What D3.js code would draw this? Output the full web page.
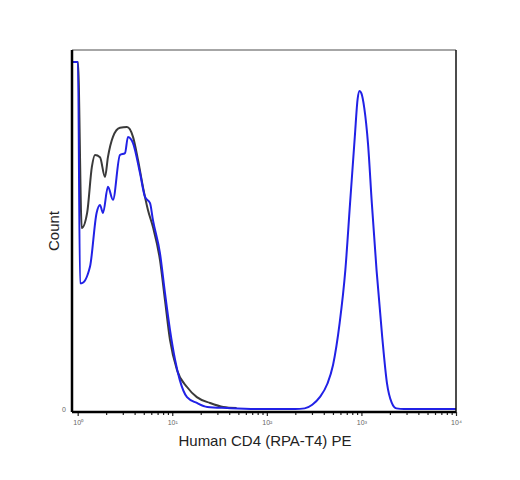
<!DOCTYPE html>
<html>
<head>
<meta charset="utf-8">
<script src="https://cdn.jsdelivr.net/npm/d3@7"></script>
<style>
  body { margin: 0; background: #fff; }
  text { font-family: "Liberation Sans", Arial, sans-serif; }
</style>
</head>
<body>
<div id="chart"></div>
<script>
// DATA (x in decades of PE intensity, y as count in % of max)
var decades = [0, 1, 2, 3, 4];
var decadeLabels = ["10\u2070", "10\u00b9", "10\u00b2", "10\u00b3", "10\u2074"];

var isotypeX = [-0.049, 0.003, 0.043, 0.10, 0.15, 0.183, 0.236, 0.289, 0.32, 0.373, 0.447, 0.521, 0.585, 0.638, 0.69, 0.743, 0.796, 0.87, 0.923, 0.976, 1.05, 1.156, 1.26, 1.40, 1.54, 1.68];
var isotypeY = [96.7, 96.7, 50.8, 55.0, 67.7, 71.0, 70.4, 64.9, 70.4, 76.0, 78.5, 78.7, 76.0, 69.6, 62.2, 55.8, 51.1, 42.0, 30.9, 19.9, 11.6, 6.9, 4.1, 2.5, 1.4, 1.1];

var cd4X = [-0.049, 0.003, 0.025, 0.043, 0.13, 0.20, 0.236, 0.268, 0.32, 0.373, 0.447, 0.50, 0.532, 0.585, 0.659, 0.712, 0.765, 0.796, 0.87, 0.923, 0.976, 1.03, 1.08, 1.156, 1.26, 1.37, 1.58, 1.93, 2.30, 2.40, 2.48, 2.56, 2.64, 2.70, 2.77, 2.83, 2.88, 2.93, 2.96, 2.98, 3.00, 3.03, 3.07, 3.11, 3.16, 3.22, 3.27, 3.32, 3.37, 3.45, 4.0];
var cd4Y = [96.7, 96.7, 35.6, 35.6, 40.1, 55.0, 57.2, 55.0, 62.2, 58.6, 71.0, 71.5, 76.0, 74.3, 66.0, 59.4, 57.7, 53.0, 43.9, 32.9, 22.7, 14.4, 8.8, 4.1, 2.5, 1.4, 1.1, 0.8, 0.8, 1.0, 2.0, 4.1, 7.8, 13.0, 24.6, 39.2, 57.7, 76.0, 86.5, 88.7, 88.0, 84.0, 74.0, 57.7, 39.2, 20.7, 8.0, 2.6, 1.0, 0.8, 0.8];

// LAYOUT
var svgWidth = 520, svgHeight = 480;
var margin = { top: 50, right: 64, bottom: 68, left: 72 };
var width = svgWidth - margin.left - margin.right;
var height = svgHeight - margin.top - margin.bottom;

var svg = d3.select("#chart")
  .append("svg")
    .attr("width", svgWidth)
    .attr("height", svgHeight)
  .append("g")
    .attr("transform", "translate(" + margin.left + "," + margin.top + ")");

var x = d3.scaleLinear().domain([-0.06, 4]).range([0, width]);
var y = d3.scaleLinear().domain([0, 100]).range([height, 0]);

// MINOR LOG TICKS
var minor = [];
decades.slice(0, 4).forEach(function(d) {
  for (var k = 2; k <= 9; k++) minor.push(d + Math.log10(k));
});

svg.append("g")
  .attr("class", "minor")
  .attr("transform", "translate(0," + height + ")")
  .call(d3.axisBottom(x).tickValues(minor).tickSize(3).tickFormat(""))
  .call(function(g) { g.select(".domain").remove(); })
  .selectAll("line").attr("stroke", "#222").attr("stroke-width", 1.2);

var xAxis = svg.append("g")
  .attr("transform", "translate(0," + height + ")")
  .call(d3.axisBottom(x).tickValues(decades).tickSize(4)
    .tickFormat(function(d, i) { return decadeLabels[i]; }));
xAxis.select(".domain").remove();
xAxis.selectAll("line").attr("stroke", "#222").attr("stroke-width", 1.2);
xAxis.selectAll("text").attr("font-size", "7px").attr("fill", "#666").attr("dy", "0.8em");

// Y zero label
svg.append("text")
  .attr("x", -6).attr("y", y(0))
  .attr("text-anchor", "end")
  .attr("font-size", "7px")
  .attr("fill", "#666")
  .text("0");

// CURVES
var line = d3.line()
  .x(function(d) { return x(d[0]); })
  .y(function(d) { return y(d[1]); })
  .curve(d3.curveMonotoneX);

svg.append("path")
  .datum(d3.zip(isotypeX, isotypeY))
  .attr("fill", "none")
  .attr("stroke", "#3a3a3a")
  .attr("stroke-width", 2)
  .attr("d", line);

svg.append("path")
  .datum(d3.zip(cd4X, cd4Y))
  .attr("fill", "none")
  .attr("stroke", "#2121e6")
  .attr("stroke-width", 2)
  .attr("d", line);

// FRAME
svg.append("line").attr("x1", 0).attr("x2", width).attr("y1", 0).attr("y2", 0)
  .attr("stroke", "#888").attr("stroke-width", 1.5);
svg.append("line").attr("x1", width).attr("x2", width).attr("y1", 0).attr("y2", height)
  .attr("stroke", "#111").attr("stroke-width", 1.5);
svg.append("line").attr("x1", 0).attr("x2", 0).attr("y1", 0).attr("y2", height)
  .attr("stroke", "#000").attr("stroke-width", 2.5);
svg.append("line").attr("x1", 0).attr("x2", width).attr("y1", height).attr("y2", height)
  .attr("stroke", "#000").attr("stroke-width", 2.5);

// AXIS LABELS
svg.append("text")
  .attr("transform", "rotate(-90)")
  .attr("x", -(height / 2))
  .attr("y", -13)
  .attr("text-anchor", "middle")
  .attr("font-size", "15px")
  .attr("fill", "#222")
  .text("Count");

svg.append("text")
  .attr("x", width / 2 + 1)
  .attr("y", height + 34)
  .attr("text-anchor", "middle")
  .attr("font-size", "15px")
  .attr("fill", "#222")
  .text("Human CD4 (RPA-T4) PE");
</script>
</body>
</html>
